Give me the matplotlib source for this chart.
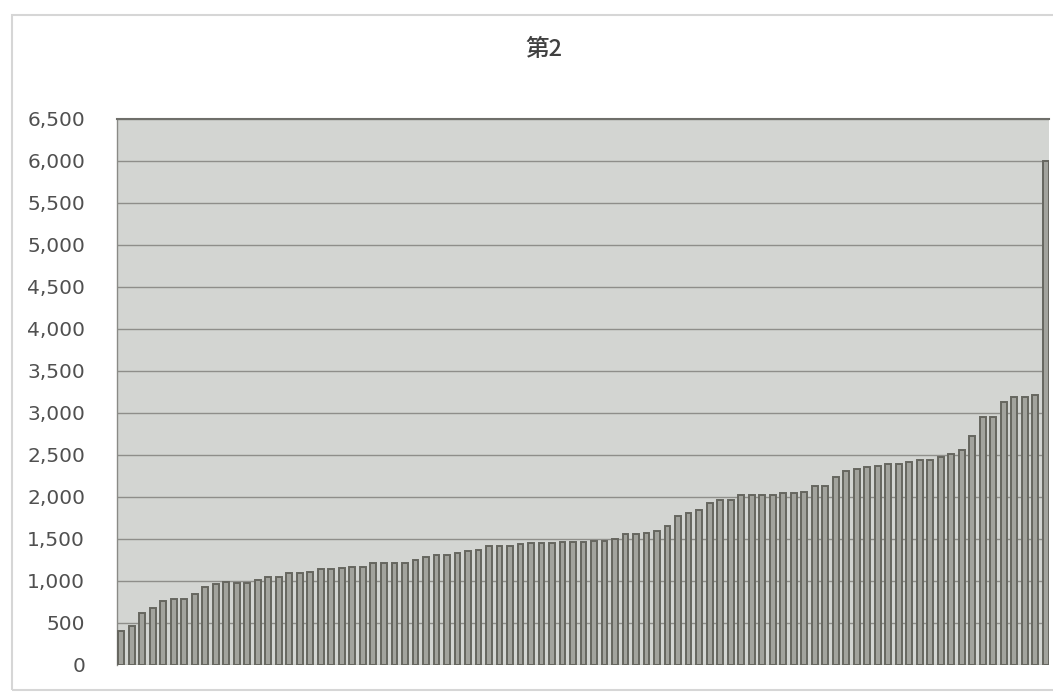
import matplotlib
matplotlib.use('Agg')
import matplotlib.pyplot as plt
from matplotlib.patches import Rectangle
import numpy as np

plt.rcParams['font.family'] = ['Noto Sans CJK JP', 'DejaVu Sans']

# bar values, sorted ascending
values = [
    410, 470, 620, 680, 760, 780, 780, 845, 925, 965,
    985, 975, 975, 1010, 1045, 1045, 1090, 1090, 1105, 1145,
    1145, 1150, 1170, 1170, 1210, 1210, 1210, 1210, 1250, 1290,
    1315, 1315, 1335, 1355, 1375, 1415, 1415, 1415, 1435, 1455,
    1455, 1455, 1470, 1470, 1470, 1475, 1475, 1500, 1555, 1555,
    1575, 1600, 1655, 1775, 1815, 1845, 1925, 1960, 1960, 2020,
    2020, 2020, 2020, 2050, 2050, 2065, 2130, 2130, 2235, 2310,
    2335, 2360, 2375, 2395, 2395, 2415, 2440, 2440, 2475, 2515,
    2565, 2725, 2950, 2950, 3135, 3195, 3195, 3220, 6000,
]
yticks = np.arange(0, 6501, 500)
title = '第2'

fig = plt.figure(figsize=(10.53, 6.97), dpi=100)
fig.patch.set_facecolor('white')
fig.patches.append(Rectangle((12 / 1053, 7 / 697), 1.0, 675 / 697,
                             transform=fig.transFigure, fill=False,
                             edgecolor='#d6d6d6', linewidth=1.5))

ax = fig.add_axes([117 / 1053, 1 - 665 / 697, 932 / 1053, 546 / 697])
ax.set_facecolor('#d3d5d2')

x = np.arange(len(values))
ax.bar(x, values, width=0.55, color='#a2a39d', edgecolor='#66665f',
       linewidth=1.4, zorder=3)

ax.set_ylim(0, 6500)
ax.set_xlim(-0.4, len(values) - 0.7)
ax.set_yticks(yticks)
ax.set_yticklabels([f'{v:,}' for v in yticks], fontsize=14.5, color='#505050',
                   family='DejaVu Sans')
ax.tick_params(axis='y', length=0, pad=23)
ax.set_xticks([])
ax.grid(axis='y', color='#8e8e8a', linewidth=1.0, zorder=1)

for side in ['right', 'bottom']:
    ax.spines[side].set_visible(False)
ax.spines['top'].set_color('#6f6f6a')
ax.spines['top'].set_linewidth(1.5)
ax.spines['left'].set_color('#8a8a86')
ax.spines['left'].set_linewidth(1.0)

fig.text(544 / 1053, 1 - 50 / 697, title, fontsize=17, color='#404040',
         ha='center', va='center', fontweight='medium')

fig.savefig('out.png', dpi=100)
plt.close()
